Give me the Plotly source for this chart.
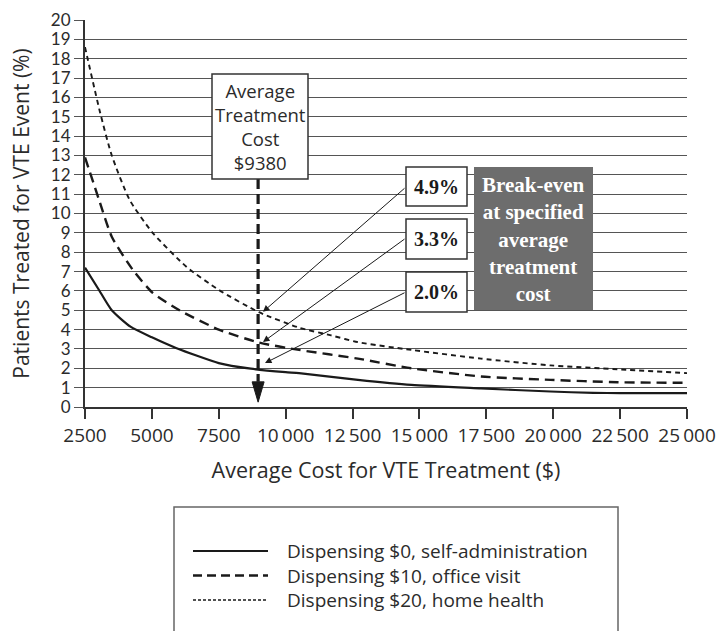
import plotly.graph_objects as go

# ---------------- data ----------------
cost_self = [2500, 3000, 3500, 4200, 5000, 5900, 7500, 8700, 10000, 10500, 12700, 14700, 17300, 19900, 21500, 22500, 25000]
pct_self = [7.2, 6.1, 5.0, 4.15, 3.6, 3.05, 2.27, 1.98, 1.8, 1.75, 1.4, 1.14, 0.96, 0.8, 0.73, 0.72, 0.72]

cost_office = [2500, 3050, 3500, 4280, 5030, 6030, 7500, 9000, 10500, 12700, 14700, 17300, 19900, 22400, 25000]
pct_office = [12.9, 10.6, 8.8, 7.1, 5.9, 5.0, 4.0, 3.33, 2.95, 2.5, 2.0, 1.58, 1.4, 1.28, 1.25]

cost_home = [2500, 3050, 3500, 4170, 5030, 6290, 7500, 9000, 10500, 11700, 12700, 14700, 17300, 19900, 22400, 25000]
pct_home = [18.6, 15.3, 13.0, 10.7, 9.0, 7.25, 6.05, 4.9, 4.1, 3.7, 3.35, 2.95, 2.5, 2.15, 1.95, 1.75]

series_names = ["Dispensing $0, self-administration",
                "Dispensing $10, office visit",
                "Dispensing $20, home health"]

x_ticks = [2500, 5000, 7500, 10000, 12500, 15000, 17500, 20000, 22500, 25000]
x_tick_labels = ["2500", "5000", "7500", "10\u2009000", "12\u2009500", "15\u2009000",
                 "17\u2009500", "20\u2009000", "22\u2009500", "25\u2009000"]
y_ticks = list(range(0, 21))

avg_cost_marker_x = 8970          # position of the vertical marker on the axis
avg_cost_label = "Average<br>Treatment<br>Cost<br>$9380"
breakeven_labels = ["4.9%", "3.3%", "2.0%"]
breakeven_tips = [4.92, 3.36, 2.27]
breakeven_text = "Break-even<br>at specified<br>average<br>treatment<br>cost"

SANS = "'Open Sans', Lato, sans-serif"
SANS_NARROW = "Lato, 'Open Sans', sans-serif"
SERIF = "'Liberation Serif', 'DejaVu Serif', serif"
INK = "#2b2b2b"

fig = go.Figure()
fig.add_trace(go.Scatter(x=cost_self, y=pct_self, mode="lines", name=series_names[0],
                         line=dict(color="#1a1a1a", width=2.2, shape="spline", smoothing=0.6),
                         showlegend=False))
fig.add_trace(go.Scatter(x=cost_office, y=pct_office, mode="lines", name=series_names[1],
                         line=dict(color="#1a1a1a", width=2.4, dash="10px,6px", shape="spline", smoothing=0.6),
                         showlegend=False))
fig.add_trace(go.Scatter(x=cost_home, y=pct_home, mode="lines", name=series_names[2],
                         line=dict(color="#1a1a1a", width=1.9, dash="5px,4px", shape="spline", smoothing=0.6),
                         showlegend=False))

shapes = []
annotations = []

# vertical dashed marker line and arrowhead
y_per_px = 20 / 387.0
x_per_px = 22500 / 602.0
box_bottom_y = (407 - 179) * y_per_px
head_base = 1.3
head_tip = 0.25
shapes.append(dict(type="line", xref="x", yref="y", x0=avg_cost_marker_x, x1=avg_cost_marker_x,
                   y0=box_bottom_y, y1=head_base,
                   line=dict(color="#1a1a1a", width=3.2, dash="10px,5px"), layer="above"))
hw = 6 * x_per_px
shapes.append(dict(type="path", xref="x", yref="y",
                   path=f"M {avg_cost_marker_x - hw},{head_base} L {avg_cost_marker_x + hw},{head_base} "
                        f"L {avg_cost_marker_x},{head_tip} Z",
                   fillcolor="#1a1a1a", line=dict(color="#1a1a1a", width=1), layer="above"))


def px_x(px):
    return (px - 85) / 602.0


def px_y(py):
    return (407 - py) / 387.0


# Average treatment cost box
shapes.append(dict(type="rect", xref="paper", yref="paper", x0=px_x(212), x1=px_x(308),
                   y0=px_y(179), y1=px_y(74), fillcolor="white",
                   line=dict(color="#333", width=1.5), layer="above"))
annotations.append(dict(xref="paper", yref="paper", x=px_x(260), y=px_y(126), text=avg_cost_label,
                        showarrow=False, font=dict(family=SANS, size=18.5, color=INK),
                        xanchor="center", yanchor="middle", align="center"))

# break-even boxes and arrows
box_tops = [167, 219, 272]
box_bots = [206, 259, 312]
tail_py = [187, 238, 292]
tip_px = [263, 263, 265]
for lab, tip, t, b, tp, tx in zip(breakeven_labels, breakeven_tips, box_tops, box_bots, tail_py, tip_px):
    shapes.append(dict(type="rect", xref="paper", yref="paper", x0=px_x(406), x1=px_x(467),
                       y0=px_y(b), y1=px_y(t), fillcolor="white",
                       line=dict(color="#333", width=1.5), layer="above"))
    annotations.append(dict(xref="paper", yref="paper", x=px_x(436.5), y=px_y((t + b) / 2), text=f"<b>{lab}</b>",
                            showarrow=False, font=dict(family=SERIF, size=20, color="#1a1a1a"),
                            xanchor="center", yanchor="middle"))
    annotations.append(dict(xref="x", yref="y", axref="x", ayref="y",
                            x=2500 + (tx - 85) * x_per_px, y=tip,
                            ax=2500 + (406 - 85) * x_per_px, ay=(407 - tp) * y_per_px,
                            text="", showarrow=True, arrowhead=2, arrowsize=1.3, arrowwidth=1,
                            arrowcolor="#1a1a1a"))

shapes.append(dict(type="rect", xref="paper", yref="paper", x0=px_x(474), x1=px_x(593),
                   y0=px_y(310), y1=px_y(167), fillcolor="#6d6d6d",
                   line=dict(color="#6d6d6d", width=0), layer="above"))
annotations.append(dict(xref="paper", yref="paper", x=px_x(533.5), y=px_y(239), text=f"<b>{breakeven_text}</b>",
                        showarrow=False, font=dict(family=SERIF, size=21, color="white"),
                        xanchor="center", yanchor="middle", align="center"))

# legend box (drawn manually so the samples have the original length)
shapes.append(dict(type="rect", xref="paper", yref="paper", x0=px_x(174), x1=px_x(618),
                   y0=px_y(680), y1=px_y(507), fillcolor="rgba(0,0,0,0)",
                   line=dict(color="#666", width=1.5)))
legend_rows = [551, 575.5, 600]
legend_styles = [dict(width=2.2, dash="solid"), dict(width=2.4, dash="9px,5px"), dict(width=1.5, dash="3px,2px")]
for name, row, st in zip(series_names, legend_rows, legend_styles):
    shapes.append(dict(type="line", xref="paper", yref="paper", x0=px_x(193), x1=px_x(268),
                       y0=px_y(row), y1=px_y(row), line=dict(color="#1a1a1a", **st)))
    annotations.append(dict(xref="paper", yref="paper", x=px_x(285), y=px_y(row), text=name,
                            showarrow=False, font=dict(family=SANS, size=19, color=INK),
                            xanchor="left", yanchor="middle"))

fig.update_layout(
    width=719, height=631,
    margin=dict(l=85, r=32, t=20, b=224, autoexpand=False),
    paper_bgcolor="white", plot_bgcolor="white",
    font=dict(family=SANS, color=INK),
    shapes=shapes, annotations=annotations,
    showlegend=False,
)
fig.update_xaxes(range=[2500, 25000], tickvals=x_ticks, ticktext=x_tick_labels,
                 showgrid=False, zeroline=False, showline=True, linecolor="#333", linewidth=2,
                 ticks="outside", ticklen=10, tickcolor="#333", tickwidth=1.5,
                 ticklabeloverflow="allow", automargin=False,
                 tickfont=dict(family=SANS, size=19, color=INK),
                 title=dict(text="Average Cost for VTE Treatment ($)", standoff=16,
                            font=dict(family=SANS, size=21.5, color=INK)))
fig.update_yaxes(range=[0, 20], tickvals=y_ticks,
                 showgrid=True, gridcolor="#555", gridwidth=1, zeroline=False,
                 showline=True, linecolor="#333", linewidth=2,
                 ticks="outside", ticklen=9, tickcolor="#555", tickwidth=1,
                 ticklabeloverflow="allow", automargin=False,
                 tickfont=dict(family=SANS_NARROW, size=17, color=INK),
                 title=dict(text="Patients Treated for VTE Event (%)", standoff=16,
                            font=dict(family=SANS, size=21, color=INK)))

# remove the default 8px body margin so the 719x631 figure fills the window exactly
fig.write_html("out.html", config={"displayModeBar": False},
               post_script="document.body.style.margin='0';document.body.style.padding='0';"
                           "document.documentElement.style.overflow='hidden';")
